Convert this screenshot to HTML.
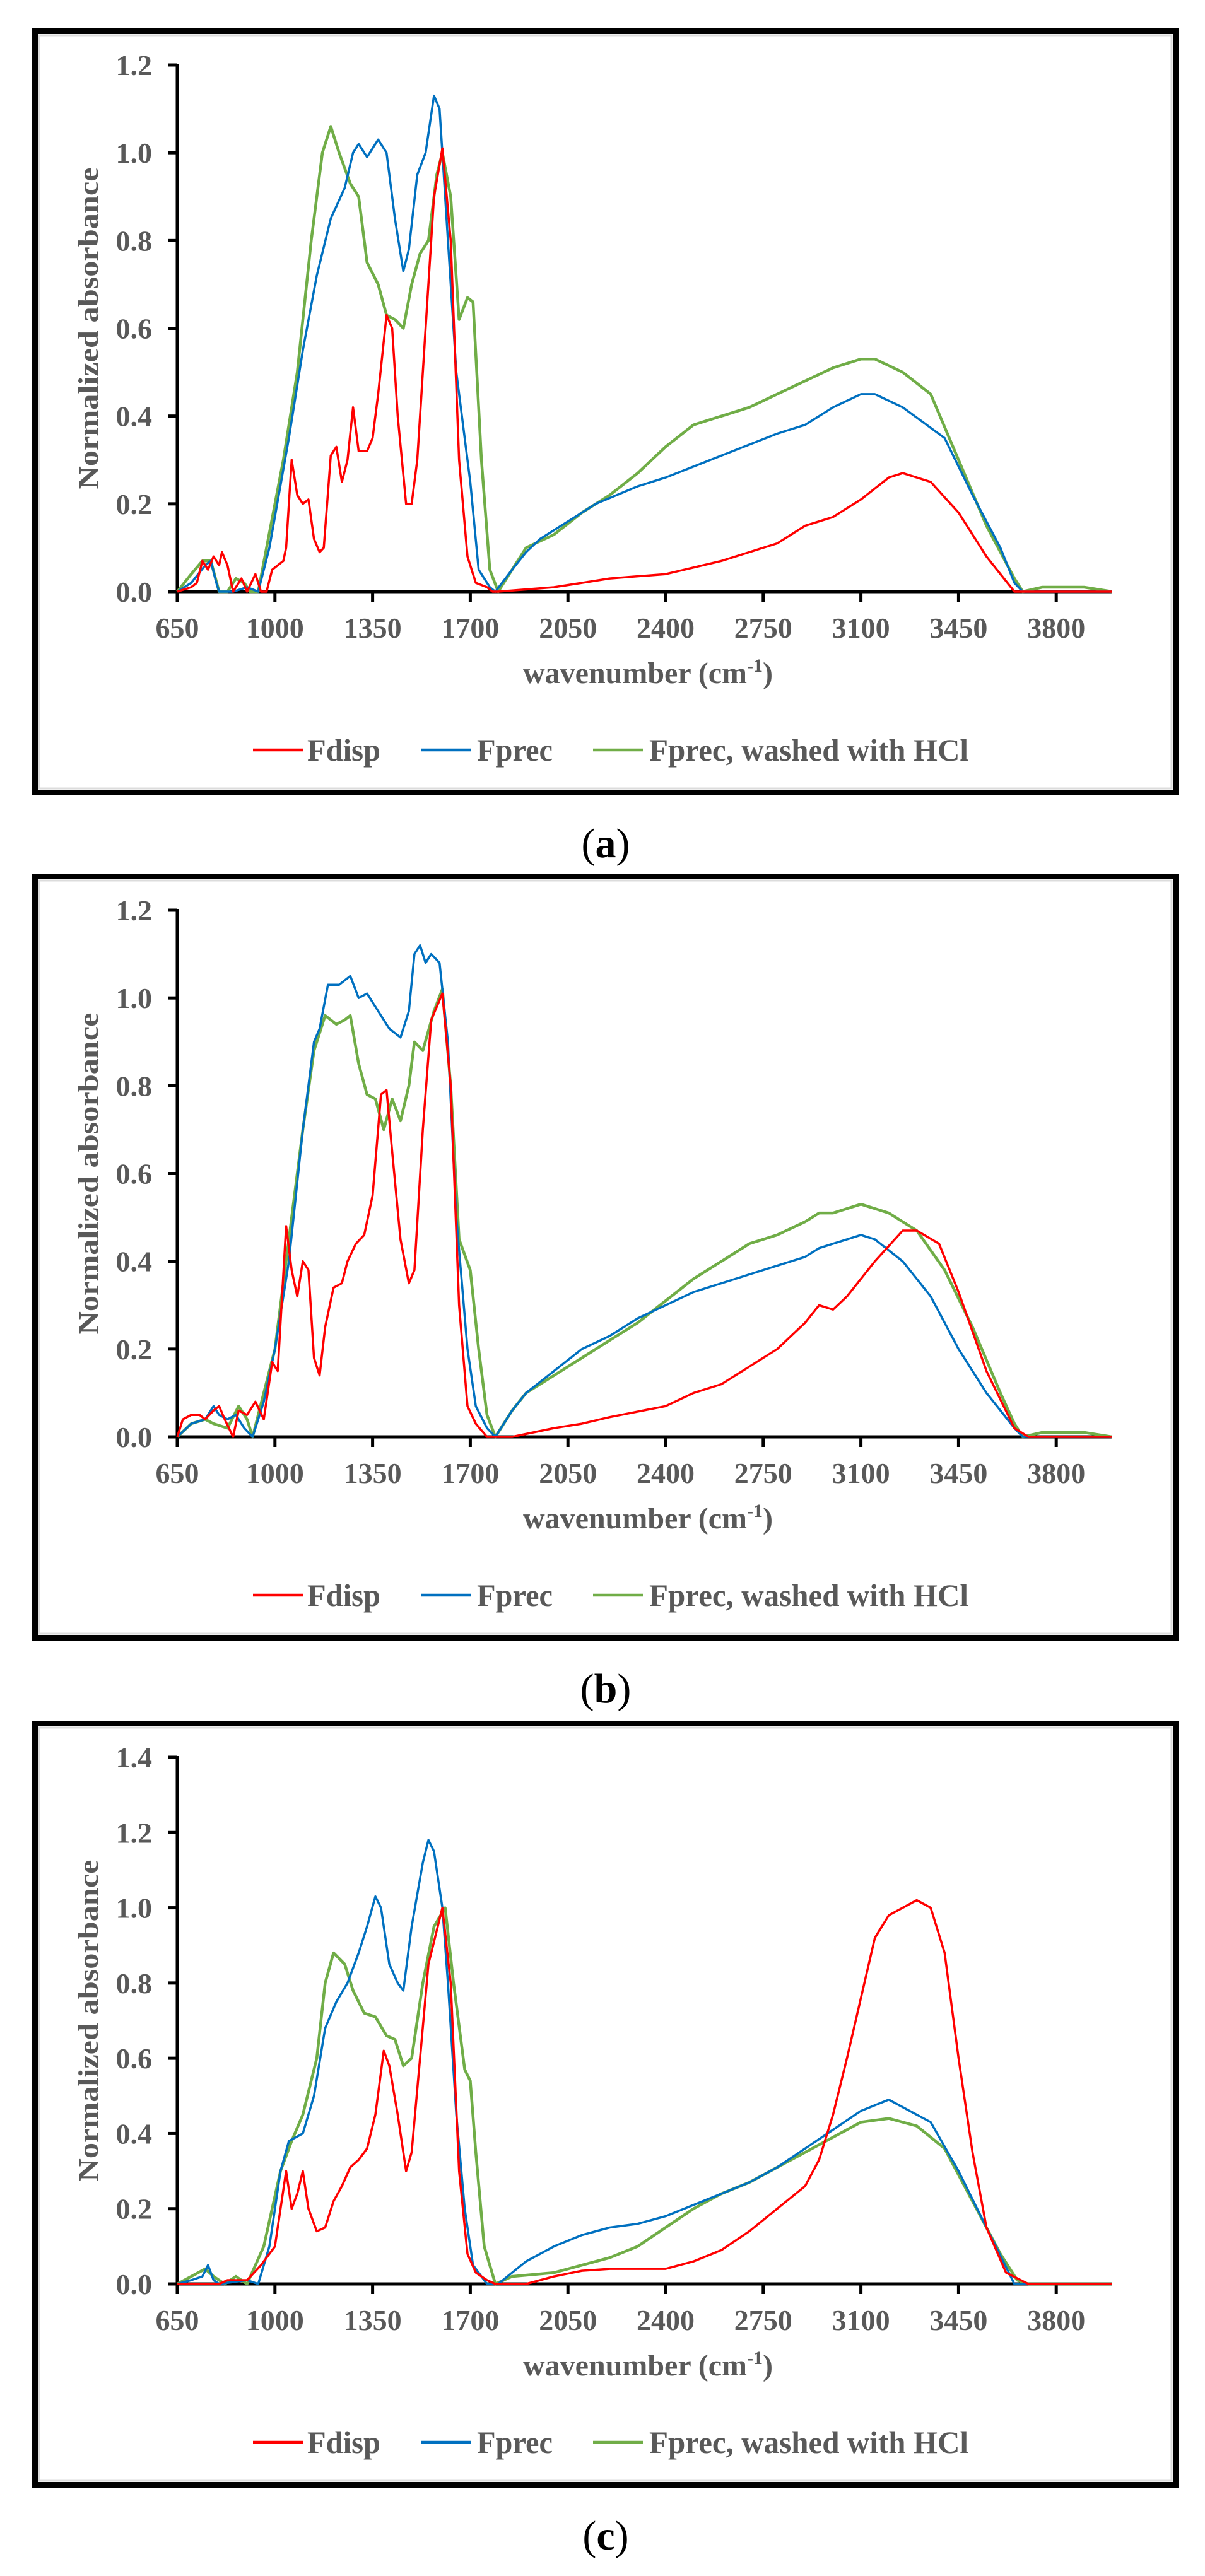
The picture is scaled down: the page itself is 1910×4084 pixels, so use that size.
<!DOCTYPE html>
<html><head><meta charset="utf-8">
<style>
html,body{margin:0;padding:0;background:#fff;}
svg{display:block;}
</style></head>
<body>
<svg id="s" xmlns="http://www.w3.org/2000/svg" width="1910" height="4084" viewBox="0 0 1910 4084" font-family="'Liberation Serif', serif"></svg>
<script>
const NS="http://www.w3.org/2000/svg";
const S=document.getElementById('s');
function el(t,a,txt){const e=document.createElementNS(NS,t);for(const k in a)e.setAttribute(k,a[k]);if(txt!==undefined)e.textContent=txt;S.appendChild(e);return e;}
const X0=281, PX=154.8/350;
function xp(w){return X0+(w-650)*PX;}
const panels=[
{top:45,label:"a",ymax:1.2,
 red:[650,0,700,.01,720,.02,740,.07,760,.05,780,.08,800,.06,810,.09,830,.06,850,0,880,.03,900,0,930,.04,950,0,970,0,990,.05,1010,.06,1030,.07,1040,.1,1060,.3,1080,.22,1100,.2,1120,.21,1140,.12,1160,.09,1175,.1,1200,.31,1220,.33,1240,.25,1260,.3,1280,.42,1300,.32,1330,.32,1350,.35,1370,.45,1400,.63,1420,.6,1440,.4,1470,.2,1490,.2,1510,.3,1540,.6,1570,.9,1600,1.01,1630,.8,1660,.3,1690,.08,1720,.02,1760,.01,1780,0,1800,0,2000,.01,2100,.02,2200,.03,2400,.04,2600,.07,2800,.11,2900,.15,3000,.17,3100,.21,3200,.26,3250,.27,3350,.25,3450,.18,3550,.08,3650,0,4000,0],
 blue:[650,0,700,.02,750,.06,770,.07,790,.02,800,0,850,0,900,.01,940,0,980,.1,1050,.35,1100,.55,1150,.72,1200,.85,1250,.92,1280,1.0,1300,1.02,1330,.99,1370,1.03,1400,1.0,1430,.85,1460,.73,1480,.78,1510,.95,1540,1.0,1570,1.13,1590,1.1,1620,.8,1650,.5,1700,.25,1730,.05,1770,.01,1790,0,1850,.05,1900,.09,1950,.12,2050,.16,2150,.2,2300,.24,2400,.26,2600,.31,2800,.36,2900,.38,3000,.42,3100,.45,3150,.45,3250,.42,3400,.35,3500,.22,3600,.1,3650,.02,3680,0,4000,0],
 green:[650,0,700,.04,740,.07,770,.07,800,0,830,0,860,.03,890,.02,910,0,940,0,970,.1,1030,.3,1080,.5,1130,.8,1170,1.0,1200,1.06,1230,1.0,1270,.93,1300,.9,1330,.75,1370,.7,1400,.63,1430,.62,1460,.6,1490,.7,1520,.77,1550,.8,1580,.95,1600,1.0,1630,.9,1660,.62,1690,.67,1710,.66,1740,.3,1770,.05,1800,0,1850,.05,1900,.1,2000,.13,2100,.18,2200,.22,2300,.27,2400,.33,2500,.38,2600,.4,2700,.42,2800,.45,2900,.48,3000,.51,3100,.53,3150,.53,3250,.5,3350,.45,3450,.3,3550,.15,3650,.03,3680,0,3750,.01,3900,.01,4000,0]},
{top:1385,label:"b",ymax:1.2,
 red:[650,0,670,.04,700,.05,730,.05,750,.04,780,.06,800,.07,820,.04,850,0,870,.06,900,.05,930,.08,960,.04,990,.17,1010,.15,1040,.48,1060,.38,1080,.32,1100,.4,1120,.38,1140,.18,1160,.14,1180,.25,1210,.34,1240,.35,1260,.4,1290,.44,1320,.46,1350,.55,1380,.78,1400,.79,1420,.65,1450,.45,1480,.35,1500,.38,1530,.7,1560,.95,1600,1.01,1630,.8,1660,.3,1690,.07,1720,.03,1760,0,1850,0,2000,.02,2100,.03,2200,.045,2400,.07,2500,.1,2600,.12,2700,.16,2800,.2,2900,.26,2950,.3,3000,.29,3050,.32,3150,.4,3250,.47,3300,.47,3380,.44,3450,.33,3550,.15,3650,.02,3700,0,4000,0],
 blue:[650,0,700,.03,750,.04,780,.07,800,.05,830,.04,860,.05,890,.02,920,0,960,.08,1000,.2,1050,.4,1100,.7,1140,.9,1160,.93,1190,1.03,1230,1.03,1270,1.05,1300,1.0,1330,1.01,1370,.97,1410,.93,1450,.91,1480,.97,1500,1.1,1520,1.12,1540,1.08,1560,1.1,1590,1.08,1620,.9,1650,.5,1690,.2,1720,.07,1760,.02,1790,0,1850,.06,1900,.1,2000,.15,2100,.2,2200,.23,2300,.27,2400,.3,2500,.33,2600,.35,2700,.37,2800,.39,2900,.41,2950,.43,3000,.44,3050,.45,3100,.46,3150,.45,3250,.4,3350,.32,3450,.2,3550,.1,3650,.02,3680,0,4000,0],
 green:[650,0,700,.03,750,.04,780,.03,830,.02,870,.07,900,.04,920,0,960,.1,1000,.2,1050,.45,1100,.7,1140,.88,1180,.96,1220,.94,1250,.95,1270,.96,1300,.85,1330,.78,1360,.77,1390,.7,1420,.77,1450,.72,1480,.8,1500,.9,1530,.88,1570,.97,1600,1.02,1630,.8,1660,.45,1700,.38,1730,.2,1760,.05,1790,0,1850,.06,1900,.1,2000,.14,2100,.18,2200,.22,2300,.26,2400,.31,2500,.36,2600,.4,2700,.44,2800,.46,2900,.49,2950,.51,3000,.51,3100,.53,3200,.51,3300,.47,3400,.38,3500,.25,3600,.1,3650,.03,3680,0,3750,.01,3900,.01,4000,0]},
{top:2728,label:"c",ymax:1.4,
 red:[650,0,800,0,830,.01,900,.01,950,.05,1000,.1,1010,.15,1040,.3,1060,.2,1080,.24,1100,.3,1120,.2,1150,.14,1180,.15,1210,.22,1240,.26,1270,.31,1300,.33,1330,.36,1360,.45,1390,.62,1410,.58,1440,.45,1470,.3,1490,.35,1520,.6,1550,.85,1600,1.0,1630,.8,1660,.3,1690,.08,1720,.03,1760,.01,1790,0,1900,0,2000,.02,2100,.035,2200,.04,2300,.04,2400,.04,2500,.06,2600,.09,2700,.14,2800,.2,2900,.26,2950,.33,3000,.45,3050,.6,3100,.76,3150,.92,3200,.98,3250,1.0,3300,1.02,3350,1.0,3400,.88,3450,.6,3500,.35,3550,.15,3620,.03,3700,0,4000,0],
 blue:[650,0,700,.01,740,.02,760,.05,780,.01,800,0,900,.01,940,0,980,.1,1020,.3,1050,.38,1100,.4,1140,.5,1180,.68,1220,.75,1260,.8,1300,.88,1330,.95,1360,1.03,1380,1.0,1410,.85,1440,.8,1460,.78,1490,.95,1530,1.12,1550,1.18,1570,1.15,1600,1.0,1620,.8,1650,.45,1680,.2,1710,.05,1760,0,1800,0,1900,.06,2000,.1,2100,.13,2200,.15,2300,.16,2400,.18,2500,.21,2600,.24,2700,.27,2800,.31,2900,.36,3000,.41,3100,.46,3200,.49,3250,.47,3350,.43,3450,.3,3550,.15,3650,0,4000,0],
 green:[650,0,700,.02,750,.04,780,.02,820,0,860,.02,900,0,960,.1,1020,.3,1060,.38,1100,.45,1150,.6,1180,.8,1210,.88,1250,.85,1280,.78,1320,.72,1360,.71,1400,.66,1430,.65,1460,.58,1490,.6,1530,.8,1570,.95,1610,1.0,1640,.8,1680,.57,1700,.54,1720,.35,1750,.1,1790,0,1850,.02,2000,.03,2100,.05,2200,.07,2300,.1,2400,.15,2500,.2,2600,.24,2700,.27,2800,.31,2900,.35,3000,.39,3100,.43,3200,.44,3300,.42,3400,.36,3500,.22,3600,.08,3660,.01,3700,0,4000,0]}
];
const GRAY="#595959";
panels.forEach(p=>{
  const T=p.top;
  // box
  el('rect',{x:51+4.5,y:T+4.5,width:1817-9,height:1216-9,fill:'#fff',stroke:'#000','stroke-width':9});
  el('rect',{x:62,y:T+11,width:1795,height:1194,fill:'none',stroke:'#dcdcdc','stroke-width':3});
  const Y0=T+893, H=835, sc=H/p.ymax;
  const yp=v=>Y0-v*sc;
  // y ticks
  const n=Math.round(p.ymax/0.2);
  for(let i=0;i<=n;i++){
    const v=i*0.2, y=yp(v);
    el('line',{x1:266,y1:y,x2:281,y2:y,stroke:'#000','stroke-width':5});
    el('text',{x:241,y:y+16,'text-anchor':'end','font-size':46,'font-weight':'bold',fill:GRAY},v.toFixed(1));
  }
  // x ticks
  for(let i=0;i<10;i++){
    const w=650+350*i, x=xp(w);
    el('line',{x1:x,y1:Y0,x2:x,y2:Y0+16,stroke:'#000','stroke-width':5});
    el('text',{x:x,y:T+966,'text-anchor':'middle','font-size':46,'font-weight':'bold',fill:GRAY},String(w));
  }
  // axes
  el('line',{x1:281,y1:yp(p.ymax)-2,x2:281,y2:Y0+2,stroke:'#000','stroke-width':5});
  el('line',{x1:279,y1:Y0,x2:xp(4000),y2:Y0,stroke:'#000','stroke-width':5});
  // series
  const ser=[['red','#ff0000',3.5],['blue','#0070c0',3.5],['green','#70ad47',4.5]];
  const order=[['green','#70ad47',4.5],['blue','#0070c0',3.5],['red','#ff0000',3.5]];
  order.forEach(s=>{
    const d=p[s[0]];let pts=[];
    for(let i=0;i<d.length;i+=2)pts.push(xp(d[i]).toFixed(1)+','+yp(d[i+1]).toFixed(1));
    el('polyline',{points:pts.join(' '),fill:'none',stroke:s[1],'stroke-width':s[2],'stroke-linejoin':'round'});
  });
  // axis titles
  const ty=(yp(p.ymax)+Y0)/2;
  const yt=el('text',{x:0,y:0,'text-anchor':'middle','font-size':44,'font-weight':'bold',fill:GRAY,transform:`translate(155,${ty}) rotate(-90)`,textLength:510,lengthAdjust:'spacingAndGlyphs'},'Normalized absorbance');
  const xt=el('text',{x:1027,y:T+1038,'text-anchor':'middle','font-size':48,'font-weight':'bold',fill:GRAY},'');
  xt.innerHTML='wavenumber (cm<tspan dy="-18" font-size="30">-1</tspan><tspan dy="18">)</tspan>';
  // legend
  const LY=T+1144;
  const leg=[[401,481,487,'Fdisp',116,'#ff0000'],[668,746,756,'Fprec',120,'#0070c0'],[940,1019,1029,'Fprec, washed with HCl',506,'#70ad47']];
  leg.forEach(l=>{
    el('line',{x1:l[0],y1:LY,x2:l[1],y2:LY,stroke:l[5],'stroke-width':4.5});
    el('text',{x:l[2],y:LY+17,'font-size':50,'font-weight':'bold',fill:GRAY,textLength:l[4],lengthAdjust:'spacingAndGlyphs'},l[3]);
  });
  // panel label
  const lab=el('text',{x:960,y:T+1216+98,'text-anchor':'middle','font-size':66,fill:'#000'},'');
  lab.innerHTML='(<tspan font-weight="bold">'+p.label+'</tspan>)';
});
</script>
</body></html>
